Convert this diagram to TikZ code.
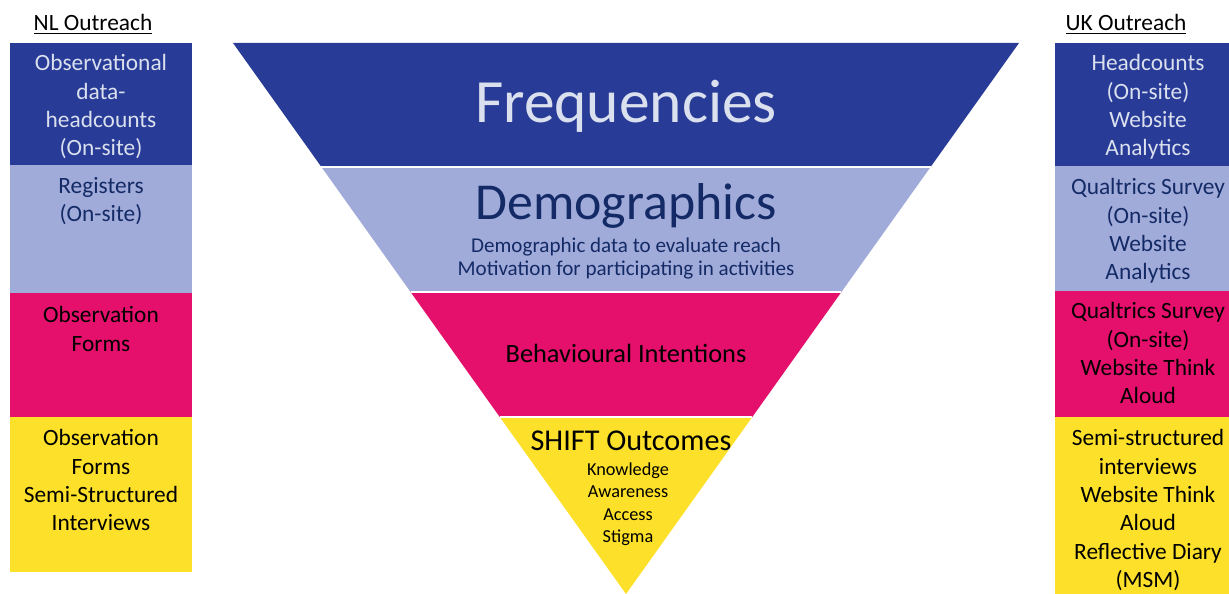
\documentclass[tikz,border=0pt]{standalone}
\usepackage{fontspec}
\setmainfont{Carlito}
\usepackage{xcolor}
\usetikzlibrary{calc,positioning}

\definecolor{freqblue}{RGB}{40,59,151}
\definecolor{demoblue}{RGB}{161,171,217}
\definecolor{behavpink}{RGB}{228,16,107}
\definecolor{shiftyellow}{RGB}{253,224,42}
\definecolor{paletext}{RGB}{218,224,238}
\definecolor{navytext}{RGB}{19,42,102}

\tikzset{
  sidetext/.style={align=center, inner sep=0pt, anchor=north, font=\fontsize{13.3}{16.2}\selectfont},
  headtext/.style={inner sep=0pt, anchor=base, font=\fontsize{13.3}{16}\selectfont},
  bandtitle/.style={inner sep=0pt, anchor=base},
  bandbody/.style={align=center, inner sep=0pt, anchor=north},
}

\begin{document}
\begin{tikzpicture}[x=0.02cm, y=-0.02cm]
    \useasboundingbox (0,0) rectangle (1229,594);

    % inverted triangle
    \coordinate (tl) at (233,43);
    \coordinate (tr) at (1019,43);
    \coordinate (apex) at (626,594);
    \foreach \t/\n in {0.225/a, 0.4519/b, 0.6788/c} {
        \coordinate (l\n) at ($(tl)!\t!(apex)$);
        \coordinate (r\n) at ($(tr)!\t!(apex)$);
    }
    \fill[freqblue] (tl) -- (tr) -- (ra) -- (la) -- cycle;
    \fill[demoblue] (la) -- (ra) -- (rb) -- (lb) -- cycle;
    \fill[behavpink] (lb) -- (rb) -- (rc) -- (lc) -- cycle;
    \fill[shiftyellow] (lc) -- (rc) -- (apex) -- cycle;
    \draw[white, line width=1pt] (la) -- (ra) (lb) -- (rb) (lc) -- (rc);

    \node[bandtitle, text=paletext, font=\fontsize{35}{40}\selectfont] (freq) at (626,123) {Frequencies};
    \node[bandtitle, text=navytext, font=\fontsize{29.5}{34}\selectfont] (demo) at (626,220) {Demographics};
    \node[bandbody, text=navytext, font=\fontsize{12}{13}\selectfont] (demobody) at (626,238)
        {Demographic data to evaluate reach\\Motivation for participating in activities};
    \node[bandtitle, font=\fontsize{15}{18}\selectfont] (behav) at (626,362) {Behavioural Intentions};
    \node[bandtitle, font=\fontsize{17.2}{20}\selectfont] (shift) at (631,450) {SHIFT Outcomes};
    \node[bandbody, font=\fontsize{10.4}{12.8}\selectfont] (shiftbody) at (628,462)
        {Knowledge\\Awareness\\Access\\Stigma};

    % NL column
    \foreach \top/\bot/\col in {43/165/freqblue, 165/293/demoblue, 293/417/behavpink, 417/572/shiftyellow}
        \fill[\col] (10,\top) rectangle (192,\bot);
    \node[headtext] (nlhead) at (93,31) {\underline{NL Outreach}};
    \node[sidetext, text=paletext] (nlfreq) at (101,54) {Observational\\data-\\headcounts\\(On-site)};
    \node[sidetext, text=navytext] (nldemo) at (101,177) {Registers\\(On-site)};
    \node[sidetext] (nlbehav) at (101,306) {Observation\\Forms};
    \node[sidetext] (nlshift) at (101,429) {Observation\\Forms\\Semi-Structured\\Interviews};

    % UK column
    \foreach \top/\bot/\col in {43/166/freqblue, 166/291/demoblue, 291/417/behavpink, 417/594/shiftyellow}
        \fill[\col] (1055,\top) rectangle (1229,\bot);
    \node[headtext] (ukhead) at (1126,31) {\underline{UK Outreach}};
    \node[sidetext, text=paletext] (ukfreq) at (1148,54) {Headcounts\\(On-site)\\Website\\Analytics};
    \node[sidetext, text=navytext] (ukdemo) at (1148,178) {Qualtrics Survey\\(On-site)\\Website\\Analytics};
    \node[sidetext] (ukbehav) at (1148,302) {Qualtrics Survey\\(On-site)\\Website Think\\Aloud};
    \node[sidetext] (ukshift) at (1148,429) {Semi-structured\\interviews\\Website Think\\Aloud\\Reflective Diary\\(MSM)};
\end{tikzpicture}
\end{document}
